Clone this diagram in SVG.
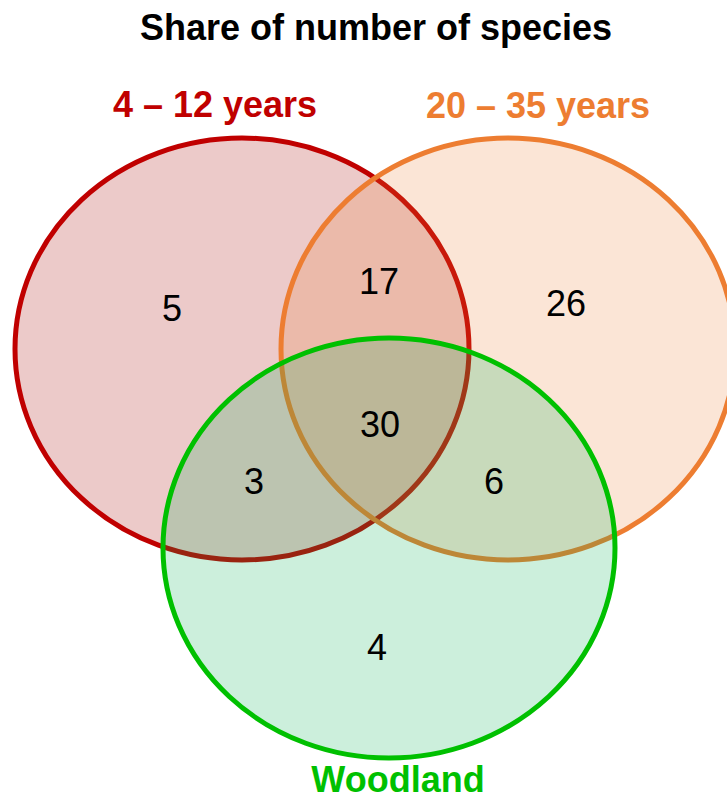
<svg xmlns="http://www.w3.org/2000/svg" width="727" height="801" viewBox="0 0 727 801">
<style>
.set{stroke-width:5}
.lbl{font-family:"Liberation Sans",Arial,sans-serif;font-weight:bold;font-size:36px;text-anchor:middle}
.num{font-family:"Liberation Sans",Arial,sans-serif;font-size:36px;text-anchor:middle;fill:#000}
</style>
<rect width="727" height="801" fill="#fff"/>
<text x="376" y="40" class="lbl" style="font-size:36px" fill="#000">Share of number of species</text>
<g id="set-4-12">
<ellipse class="set" cx="242" cy="349" rx="227" ry="211" fill="rgb(192,80,77)" fill-opacity="0.3" stroke="#C00000"/>
<text x="215" y="117" class="lbl" fill="#C00000">4 – 12 years</text>
</g>
<g id="set-20-35">
<ellipse class="set" cx="508" cy="349" rx="227" ry="211" fill="rgb(237,125,49)" fill-opacity="0.2" stroke="#ED7D31"/>
<text x="538" y="118" class="lbl" fill="#ED7D31">20 – 35 years</text>
</g>
<g id="set-woodland">
<ellipse class="set" cx="389" cy="548" rx="226" ry="210" fill="rgb(0,176,80)" fill-opacity="0.2" stroke="#00C000"/>
<text x="398" y="792" class="lbl" fill="#00C000">Woodland</text>
</g>
<g id="counts">
<text class="num" x="172" y="321">5</text>
<text class="num" x="379" y="294">17</text>
<text class="num" x="566" y="316">26</text>
<text class="num" x="380" y="437">30</text>
<text class="num" x="254" y="494">3</text>
<text class="num" x="494" y="494">6</text>
<text class="num" x="377" y="660">4</text>
</g>
<g id="connectors"/>
</svg>
